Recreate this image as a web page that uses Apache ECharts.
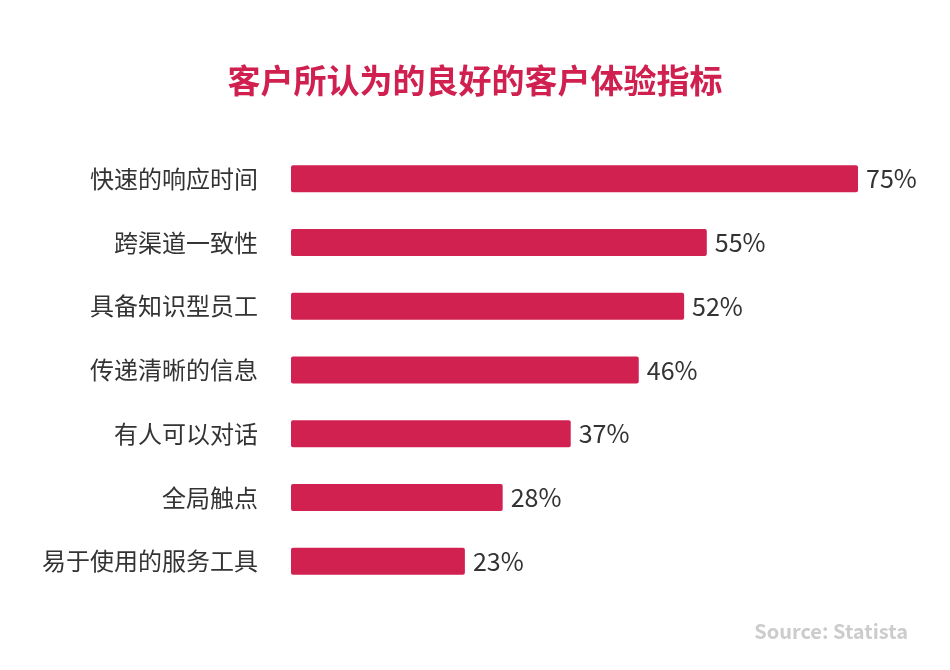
<!DOCTYPE html>
<html><head><meta charset="utf-8">
<script src="https://cdn.jsdelivr.net/npm/echarts@6/dist/echarts.min.js"></script>
<style>html,body{margin:0;padding:0;background:#fff}#c{width:950px;height:670px}</style>
</head><body><div id="c"></div>
<script>
const categories = ['快速的响应时间','跨渠道一致性','具备知识型员工','传递清晰的信息','有人可以对话','全局触点','易于使用的服务工具'];
const values = [75, 55, 52, 46, 37, 28, 23];
const titleText = '客户所认为的良好的客户体验指标';
const sourceText = 'Source: Statista';
const FONT = '"Noto Sans CJK SC", "Noto Sans", sans-serif';
const chart = echarts.init(document.getElementById('c'));
chart.setOption({
  backgroundColor: '#fff',
  animation: false,
  title: [{
    text: titleText, left: 'center', top: 59,
    textStyle: {fontFamily: FONT, fontSize: 33, fontWeight: 'bold', color: '#d0204f'}
  }, {
    text: sourceText, right: 37, top: 616,
    textStyle: {fontFamily: FONT, fontSize: 20, fontWeight: 'bold', color: '#cccccc'}
  }],
  grid: {left: 291, right: 92, top: 147, bottom: 77, containLabel: false},
  xAxis: {type: 'value', min: 0, max: 75, show: false},
  yAxis: {
    type: 'category', data: categories, inverse: true,
    axisLine: {show: false}, axisTick: {show: false},
    axisLabel: {margin: 33, fontFamily: FONT, fontSize: 24, color: '#333'}
  },
  series: [{
    type: 'bar', data: values, barWidth: 27,
    itemStyle: {color: '#d12150', borderRadius: 2},
    label: {show: true, position: 'right', distance: 8, formatter: '{c}%',
      fontFamily: FONT, fontSize: 25, color: '#333'}
  }]
});
</script></body></html>
